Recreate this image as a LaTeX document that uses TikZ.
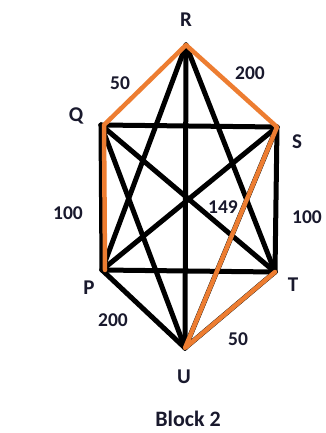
\documentclass[tikz,border=0pt]{standalone}
\usepackage{fontspec}
\setmainfont{Carlito}
\definecolor{pathorange}{RGB}{237,125,49}
\definecolor{labelnavy}{RGB}{25,25,45}
\begin{document}
\begin{tikzpicture}[x=1pt,y=-1pt,
  edge/.style={line width=5pt,line cap=round,line join=round,black},
  hl/.style={line width=4.5pt,line cap=round,line join=round,pathorange},
  vlabel/.style={font=\bfseries\fontsize{21}{23}\selectfont,text=labelnavy,inner sep=0pt},
  wlabel/.style={font=\bfseries\fontsize{19.5}{21}\selectfont,text=labelnavy,inner sep=0pt}]
\useasboundingbox (0,0) rectangle (325,433);
\fill[white] (0,0) rectangle (325,433);
\coordinate (R) at (186,45);
\coordinate (Q) at (101,125);
\coordinate (S) at (277,127);
\coordinate (P) at (102,270);
\coordinate (T) at (275,272);
\coordinate (U) at (185,348);
% black edges
\draw[edge] (Q) -- (S);
\draw[edge] (P) -- (T);
\draw[edge] (Q) -- (P);
\draw[edge] (S) -- (T);
\draw[edge] (R) -- (U);
\draw[edge] (R) -- (P);
\draw[edge] (R) -- (T);
\draw[edge] (Q) -- (T);
\draw[edge] (S) -- (P);
\draw[edge] (Q) -- (U);
\draw[edge] (S) -- (U);
\draw[edge] (P) -- (U);
\draw[edge] (T) -- (U);
% highlighted path
\draw[hl] ([xshift=3pt]P) -- ([xshift=3pt]Q) -- (R) -- (S) -- (U) -- (T);
% vertex labels
\node[vlabel] (lR) at (186,20) {R};
\node[vlabel] (lQ) at (76,116) {Q};
\node[vlabel] (lS) at (297,142) {S};
\node[vlabel] (lP) at (89,288) {P};
\node[vlabel] (lT) at (293,285) {T};
\node[vlabel] (lU) at (184,377) {U};
% weights
\node[wlabel] (w1) at (120,83) {50};
\node[wlabel] (w2) at (250,73) {200};
\node[wlabel] (w3) at (68,213) {100};
\node[wlabel] (w4) at (223,207) {149};
\node[wlabel] (w5) at (307,217) {100};
\node[wlabel] (w6) at (113,320) {200};
\node[wlabel] (w7) at (238,339) {50};
\node[font=\bfseries\fontsize{22}{24}\selectfont,text=labelnavy,inner sep=0pt] (cap) at (188,419) {Block 2};
\end{tikzpicture}
\end{document}
